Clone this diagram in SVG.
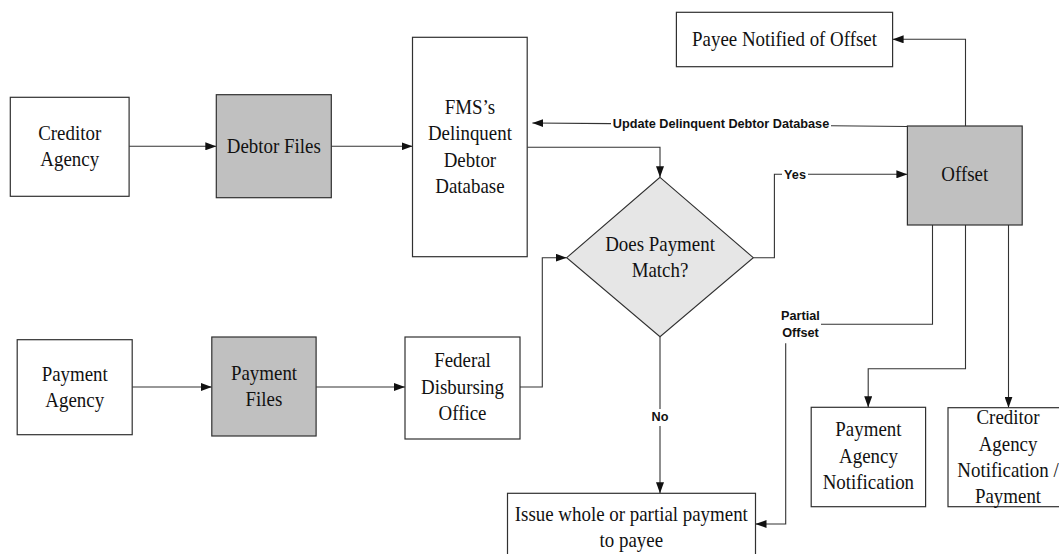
<svg xmlns="http://www.w3.org/2000/svg" width="1059" height="554" viewBox="0 0 1059 554">
<style>
.box{fill:#ffffff;stroke:#303030;stroke-width:1.2}
.dark{fill:#c0c0c0;stroke:#303030;stroke-width:1.2}
.dia{fill:#e6e6e6;stroke:#303030;stroke-width:1.1}
.ln{fill:none;stroke:#333333;stroke-width:1.1}
.t{font-family:"Liberation Serif","Times New Roman",serif;font-size:22px;fill:#111111;text-anchor:middle;transform-box:fill-box;transform-origin:center;transform:scaleX(0.86)}
.lb{font-family:"Liberation Sans",Arial,sans-serif;font-size:12.7px;font-weight:bold;fill:#111111;text-anchor:middle}
</style>
<defs>
<marker id="ah" markerUnits="userSpaceOnUse" markerWidth="11" markerHeight="8" refX="11" refY="4" orient="auto">
<path d="M0,0 L11,4 L0,8 z" fill="#111111"/>
</marker>
</defs>
<g id="connectors">
<path class="ln" d="M129.1,146.3 H216.3" marker-end="url(#ah)"/>
<path class="ln" d="M331.3,146.3 H412.5" marker-end="url(#ah)"/>
<path class="ln" d="M527.2,147.3 H660 V177.3" marker-end="url(#ah)"/>
<path class="ln" d="M132.2,387 H211.8" marker-end="url(#ah)"/>
<path class="ln" d="M316.1,387 H405" marker-end="url(#ah)"/>
<path class="ln" d="M520,387 H542.3 V257.7 H566.7" marker-end="url(#ah)"/>
<path class="ln" d="M753.3,257.7 H774.4 V174.3 H782"/>
<path class="ln" d="M808,174.3 H907.4" marker-end="url(#ah)"/>
<path class="ln" d="M660,336.7 V409"/>
<path class="ln" d="M660,426 V493.3" marker-end="url(#ah)"/>
<path class="ln" d="M965.5,126 V39.3 H892.6" marker-end="url(#ah)"/>
<path class="ln" d="M907.4,126.5 L831,125.8"/>
<path class="ln" d="M611,123.6 L532.4,123" marker-end="url(#ah)"/>
<path class="ln" d="M932.5,225 V324.3 H821"/>
<path class="ln" d="M785.7,343.3 V524 H755.5" marker-end="url(#ah)"/>
<path class="ln" d="M965.5,225 V368.7 H868.2 V407.3" marker-end="url(#ah)"/>
<path class="ln" d="M1008.5,225 V407.7" marker-end="url(#ah)"/>
<text class="lb" x="721" y="127.5">Update Delinquent Debtor Database</text>
<text class="lb" x="795" y="178.8">Yes</text>
<text class="lb" x="660" y="421">No</text>
<text class="lb" x="800.5" y="320.2">Partial</text>
<text class="lb" x="800.5" y="337.2">Offset</text>
</g>
<g id="creditor-agency">
<rect class="box" x="10.3" y="97.3" width="118.8" height="99"/>
<text class="t" x="69.7" y="140">Creditor</text>
<text class="t" x="69.7" y="166.5">Agency</text>
</g>
<g id="debtor-files">
<rect class="dark" x="216.3" y="94.7" width="115" height="103"/>
<text class="t" x="273.8" y="153">Debtor Files</text>
</g>
<g id="fms-database">
<rect class="box" x="412.5" y="37.3" width="114.7" height="219.4"/>
<text class="t" x="469.9" y="114">FMS’s</text>
<text class="t" x="469.9" y="140.5">Delinquent</text>
<text class="t" x="469.9" y="167">Debtor</text>
<text class="t" x="469.9" y="193.5">Database</text>
</g>
<g id="payee-notified">
<rect class="box" x="676.4" y="12.3" width="216.2" height="54.4"/>
<text class="t" x="784.5" y="46">Payee Notified of Offset</text>
</g>
<g id="offset">
<rect class="dark" x="907.4" y="126" width="114.8" height="99"/>
<text class="t" x="964.8" y="181">Offset</text>
</g>
<g id="payment-match">
<polygon class="dia" points="660,177.3 753.3,257.7 660,336.7 566.7,257.7"/>
<text class="t" x="660" y="251">Does Payment</text>
<text class="t" x="660" y="277.3">Match?</text>
</g>
<g id="payment-agency">
<rect class="box" x="17.2" y="339.7" width="115" height="95"/>
<text class="t" x="74.7" y="381">Payment</text>
<text class="t" x="74.7" y="407">Agency</text>
</g>
<g id="payment-files">
<rect class="dark" x="211.8" y="337" width="104.3" height="99"/>
<text class="t" x="264" y="380">Payment</text>
<text class="t" x="264" y="406.5">Files</text>
</g>
<g id="federal-disbursing">
<rect class="box" x="405" y="337" width="115" height="102"/>
<text class="t" x="462.5" y="367.5">Federal</text>
<text class="t" x="462.5" y="394">Disbursing</text>
<text class="t" x="462.5" y="420.5">Office</text>
</g>
<g id="payment-agency-notification">
<rect class="box" x="811.2" y="407.3" width="114.4" height="99.4"/>
<text class="t" x="868.4" y="436.5">Payment</text>
<text class="t" x="868.4" y="463">Agency</text>
<text class="t" x="868.4" y="489">Notification</text>
</g>
<g id="creditor-agency-notification">
<rect class="box" x="948" y="407.7" width="120" height="99"/>
<text class="t" x="1008" y="424.5">Creditor</text>
<text class="t" x="1008" y="450.8">Agency</text>
<text class="t" x="1008" y="477.1">Notification /</text>
<text class="t" x="1008" y="503.4">Payment</text>
</g>
<g id="issue-payment">
<rect class="box" x="507.5" y="493.3" width="248" height="70"/>
<text class="t" x="631.3" y="521">Issue whole or partial payment</text>
<text class="t" x="631.3" y="547">to payee</text>
</g>
</svg>
